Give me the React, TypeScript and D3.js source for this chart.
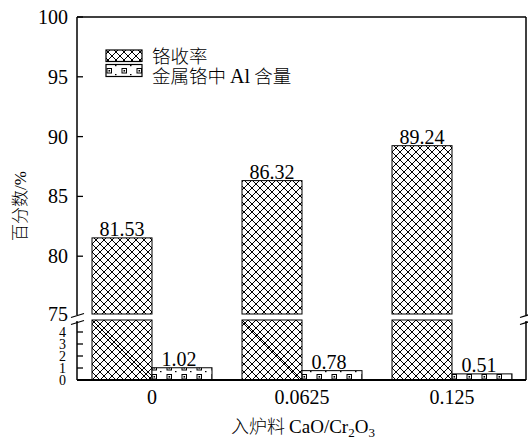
import React from 'react';
import * as d3 from 'd3';

const categories = ['0', '0.0625', '0.125'];
const recovery = [81.53, 86.32, 89.24];
const alContent = [1.02, 0.78, 0.51];
const upperTicks = [75, 80, 85, 90, 95, 100];
const lowerTicks = [0, 1, 2, 3, 4];
const seriesNames = ['铬收率', '金属铬中 Al 含量'];

const W = 528, H = 445;
const L = 77, R = 526, T = 17, B = 380;
const upperBottom = 315, lowerTop = 321;
const serif = '"Liberation Serif", "Times New Roman", serif';
const cjk = '"Noto Sans CJK SC", sans-serif';

export default function App() {
  const x = d3.scaleBand<string>().domain(categories).range([L, L + 450]).paddingInner(0).paddingOuter(0);
  const yU = d3.scaleLinear().domain([75, 100]).range([316, T]);
  const yL = d3.scaleLinear().domain([0, 5]).range([B, 320]);
  const barW = 60;

  return (
    <svg width={W} height={H} style={{ position: 'absolute', left: 0, top: 0, background: '#fff' }}>
      <defs>
        <pattern id="cross" patternUnits="userSpaceOnUse" width={8} height={8}>
          <rect width={8} height={8} fill="#fff" />
          <path d="M0,0 L8,8 M8,0 L0,8 M-1,7 L1,9 M7,-1 L9,1 M-1,1 L1,-1 M7,9 L9,7" stroke="#000" strokeWidth={1} />
        </pattern>
        <pattern id="dots" patternUnits="userSpaceOnUse" width={15} height={9} y={380 - 9}>
          <rect width={15} height={9} fill="#fff" />
          <rect x={2} y={3.5} width={4.5} height={4.5} fill="none" stroke="#000" strokeWidth={1} />
          <rect x={3.5} y={5} width={1.6} height={1.6} fill="#000" />
          <rect x={10} y={0} width={1.5} height={1.2} fill="#000" />
        </pattern>
      </defs>

      {/* bars */}
      {categories.map((c, i) => {
        const cx = (x(c) as number) + x.bandwidth() / 2;
        const x0 = cx - barW;
        const x1 = cx;
        const v = recovery[i];
        const a = alContent[i];
        return (
          <g key={c}>
            <rect x={x0} y={yU(v)} width={barW} height={upperBottom - 1 - yU(v)} fill="url(#cross)" stroke="#000" strokeWidth={1} />
            <rect x={x0} y={lowerTop - 1} width={barW} height={B - lowerTop + 1} fill="url(#cross)" stroke="#000" strokeWidth={1} />
            <line x1={x0} y1={lowerTop - 1} x2={x0 + barW} y2={B} stroke="#000" strokeWidth={1} />
            <rect x={x1} y={yL(a)} width={barW} height={B - yL(a)} fill="url(#dots)" stroke="#000" strokeWidth={1} />
            <text x={x0 + barW / 2} y={yU(v) - 2} textAnchor="middle" fontFamily={serif} fontSize={20}>{v.toFixed(2)}</text>
            <text x={x1 + barW / 2 - 3} y={yL(a) - 2} textAnchor="middle" fontFamily={serif} fontSize={20}>{a.toFixed(2)}</text>
            <text x={cx} y={404} textAnchor="middle" fontFamily={serif} fontSize={20}>{c}</text>
          </g>
        );
      })}

      {/* frame */}
      <line x1={L} y1={T} x2={R} y2={T} stroke="#000" strokeWidth={1.5} />
      <line x1={L} y1={B} x2={R} y2={B} stroke="#000" strokeWidth={2} />
      <line x1={L} y1={T} x2={L} y2={upperBottom} stroke="#000" strokeWidth={1.5} />
      <line x1={L} y1={lowerTop} x2={L} y2={B} stroke="#000" strokeWidth={1.5} />
      <line x1={R} y1={T} x2={R} y2={upperBottom} stroke="#000" strokeWidth={1.5} />
      <line x1={R} y1={lowerTop} x2={R} y2={B} stroke="#000" strokeWidth={1.5} />
      {[L, R].map((bx) => (
        <g key={bx}>
          <line x1={bx - 6} y1={317.5} x2={bx + 7} y2={313.5} stroke="#000" strokeWidth={1.3} />
          <line x1={bx - 6} y1={324.5} x2={bx + 7} y2={320.5} stroke="#000" strokeWidth={1.3} />
        </g>
      ))}

      {/* upper ticks */}
      {upperTicks.map((t) => (
        <g key={'u' + t}>
          {t !== 75 && <line x1={L} y1={yU(t)} x2={L + 6} y2={yU(t)} stroke="#000" strokeWidth={1.3} />}
          <text x={68} y={yU(t)} dy={t === 75 ? '0.25em' : '0.35em'} textAnchor="end" fontFamily={serif} fontSize={20}>{t}</text>
        </g>
      ))}
      {/* lower ticks */}
      {lowerTicks.map((t) => (
        <g key={'l' + t}>
          {t !== 0 && <line x1={L} y1={yL(t)} x2={L + 6} y2={yL(t)} stroke="#000" strokeWidth={1.3} />}
          <text x={66} y={yL(t)} dy="0.35em" textAnchor="end" fontFamily={serif} fontSize={14}>{t}</text>
        </g>
      ))}

      {/* legend */}
      <rect x={106} y={50} width={36} height={11.5} fill="url(#cross)" stroke="#000" strokeWidth={1.2} />
      <rect x={106} y={64.5} width={36} height={12} fill="url(#dots)" stroke="#000" strokeWidth={1.2} />
      <text x={152} y={56.5} dy="0.35em" fontFamily={cjk} fontWeight={300} fontSize={18.5}>{seriesNames[0]}</text>
      <text x={152} y={76.5} dy="0.35em" fontFamily={cjk} fontWeight={300} fontSize={18.5}>
        {'金属铬中 '}<tspan fontFamily={serif} fontWeight={400} fontSize={20}>Al</tspan>{' 含量'}
      </text>

      {/* axis titles */}
      <text transform="translate(20,206) rotate(-90)" textAnchor="middle" fontFamily={cjk} fontWeight={300} fontSize={17} dy="0.35em">
        百分数<tspan fontFamily={serif} fontWeight={400}>/%</tspan>
      </text>
      <text x={303} y={433} textAnchor="middle" fontFamily={cjk} fontWeight={300} fontSize={18}>
        入炉料 <tspan fontFamily={serif} fontWeight={400} fontSize={19}>CaO/Cr</tspan><tspan fontFamily={serif} fontWeight={400} fontSize={13} dy={4}>2</tspan><tspan fontFamily={serif} fontWeight={400} fontSize={19} dy={-4}>O</tspan><tspan fontFamily={serif} fontWeight={400} fontSize={13} dy={4}>3</tspan>
      </text>
    </svg>
  );
}
